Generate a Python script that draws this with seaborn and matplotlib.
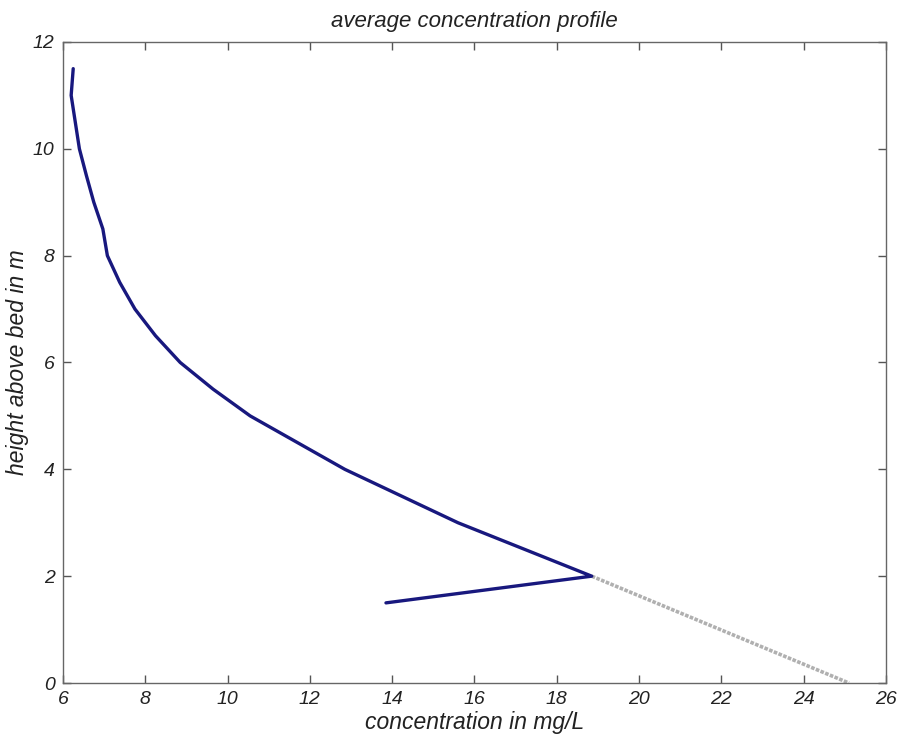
import matplotlib
matplotlib.use("Agg")
import matplotlib.pyplot as plt
import seaborn as sns
import pandas as pd

# Measured profile (concentration in mg/L vs height above bed in m)
heights = [11.5, 11.0, 10.0, 9.5, 9.0, 8.5, 8.0, 7.5, 7.0, 6.5, 6.0, 5.5, 5.0, 4.0, 3.0, 2.0, 1.5]
concentrations = [6.25, 6.2, 6.4, 6.57, 6.75, 6.97, 7.08, 7.38, 7.75, 8.25, 8.85, 9.65, 10.55, 12.85, 15.6, 18.85, 13.85]

# Extrapolated section to the bed
extrap_heights = [2.0, 0.0]
extrap_conc = [18.85, 25.1]

x_ticks = [6, 8, 10, 12, 14, 16, 18, 20, 22, 24, 26]
y_ticks = [0, 2, 4, 6, 8, 10, 12]

sns.set_style("white")
plt.rcParams['font.family'] = ['Liberation Sans Narrow', 'Liberation Sans', 'DejaVu Sans']
plt.rcParams['font.style'] = 'italic'

fig = plt.figure(figsize=(8.99, 7.36), dpi=100)
ax = fig.add_axes([0.070, 0.072, 0.9155, 0.871])

df = pd.DataFrame({"c": concentrations, "h": heights})
df2 = pd.DataFrame({"c": extrap_conc, "h": extrap_heights})

sns.lineplot(data=df2, x="c", y="h", sort=False, estimator=None, ax=ax,
             color="#b0b0b0", linewidth=2.6, linestyle=(0, (1, 0.4)))
sns.lineplot(data=df, x="c", y="h", sort=False, estimator=None, ax=ax,
             color="#18187e", linewidth=2.4)

ax.set_xlim(6, 26)
ax.set_ylim(0, 12)
ax.set_xticks(x_ticks)
ax.set_yticks(y_ticks)
ax.set_xticklabels([str(t) for t in x_ticks], fontsize=14, style='italic', color='#222222')
ax.set_yticklabels([str(t) for t in y_ticks], fontsize=14, style='italic', color='#222222')
ax.tick_params(direction='in', length=6, width=1, color='#555555',
               top=True, right=True, bottom=True, left=True, pad=6)
for s in ax.spines.values():
    s.set_color('#666666')
    s.set_linewidth(1.0)

ax.set_xlabel("concentration in mg/L", fontsize=16.5, style='italic', labelpad=2, color='#222222')
ax.set_ylabel("height above bed in m", fontsize=16.5, style='italic', labelpad=3, color='#222222')
ax.set_title("average concentration profile", fontsize=16, style='italic', pad=11, color='#222222')

fig.savefig("out.png", dpi=100)
